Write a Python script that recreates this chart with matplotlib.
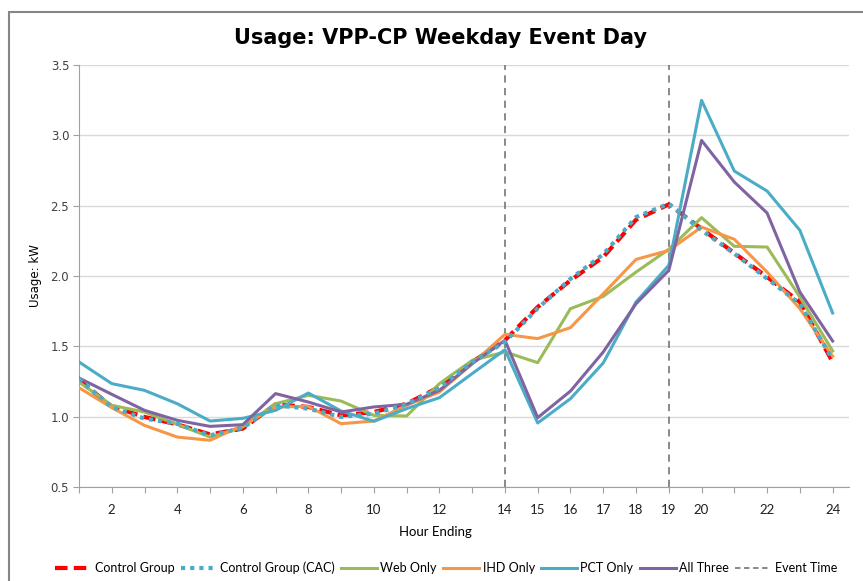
import matplotlib
matplotlib.use("Agg")
import matplotlib.pyplot as plt
from matplotlib.patches import Rectangle
from matplotlib.lines import Line2D

# hourly usage (kW)
hours = list(range(1, 25))
control = [1.258, 1.073, 0.998, 0.945, 0.874, 0.915, 1.088, 1.069, 1.009, 1.033, 1.092, 1.211,
           1.389, 1.543, 1.780, 1.969, 2.135, 2.400, 2.509, 2.336, 2.163, 1.993, 1.815, 1.389]
control_cac = [1.270, 1.068, 0.986, 0.950, 0.867, 0.920, 1.081, 1.057, 0.998, 1.021, 1.088, 1.206,
               1.389, 1.531, 1.770, 1.980, 2.154, 2.419, 2.514, 2.325, 2.159, 1.981, 1.803, 1.405]
web_only = [1.246, 1.081, 1.033, 0.945, 0.855, 0.927, 1.092, 1.152, 1.111, 1.009, 1.005, 1.235,
            1.400, 1.460, 1.384, 1.768, 1.855, 2.028, 2.190, 2.415, 2.211, 2.206, 1.851, 1.467]
ihd_only = [1.206, 1.064, 0.938, 0.855, 0.832, 0.938, 1.069, 1.073, 0.950, 0.969, 1.081, 1.175,
            1.377, 1.585, 1.555, 1.633, 1.874, 2.118, 2.182, 2.348, 2.261, 2.028, 1.768, 1.429]
pct_only = [1.389, 1.235, 1.187, 1.092, 0.969, 0.988, 1.045, 1.168, 1.040, 0.967, 1.057, 1.135,
            1.306, 1.476, 0.955, 1.128, 1.382, 1.815, 2.076, 3.249, 2.746, 2.604, 2.325, 1.737]
all_three = [1.275, 1.159, 1.045, 0.974, 0.931, 0.943, 1.164, 1.104, 1.033, 1.069, 1.088, 1.187,
             1.377, 1.543, 0.993, 1.182, 1.460, 1.803, 2.040, 2.964, 2.668, 2.448, 1.886, 1.538]
event_hours = [14, 19]
labelled_hours = [2, 4, 6, 8, 10, 12, 14, 15, 16, 17, 18, 19, 20, 22, 24]
y_ticks = [0.5, 1.0, 1.5, 2.0, 2.5, 3.0, 3.5]

narrow = ["Lato", "DejaVu Sans"]

fig = plt.figure(figsize=(8.63, 5.81), dpi=100)
ax = fig.add_axes([0.0915, 0.1618, 0.8923, 0.7263])

# frame round the whole chart
fig.patches.append(Rectangle((0.0104, -0.1), 1.2, 1.0794, transform=fig.transFigure,
                             fill=False, edgecolor="#868686", linewidth=1.5))

lw = 2.2
ax.plot(hours, control, color="#FF0000", lw=3, ls=(0, (3, 1.5)), label="Control Group", zorder=3)
ax.plot(hours, control_cac, color="#4BACC6", lw=3, ls=(0, (1, 1.2)), label="Control Group (CAC)", zorder=4)
ax.plot(hours, web_only, color="#9BBB59", lw=lw, label="Web Only", zorder=3)
ax.plot(hours, ihd_only, color="#F79646", lw=lw, label="IHD Only", zorder=3)
ax.plot(hours, pct_only, color="#4BACC6", lw=lw, label="PCT Only", zorder=3)
ax.plot(hours, all_three, color="#8064A2", lw=lw, label="All Three", zorder=3)
for h in event_hours:
    ax.axvline(h, color="#808080", lw=1.3, ls=(0, (4, 3)), zorder=2)

ax.set_xlim(1, 24.5)
ax.set_ylim(0.5, 3.5)
ax.set_yticks(y_ticks)
ax.set_yticklabels([f"{v:.1f}" for v in y_ticks], fontsize=8.5, color="#404040")
ax.set_xticks(hours)
ax.set_xticklabels([str(h) if h in labelled_hours else "" for h in hours],
                   fontsize=9.5, family=narrow, color="#202020")
ax.tick_params(axis="x", length=4, color="#A0A0A0", pad=8)
ax.tick_params(axis="y", length=4, color="#A0A0A0", pad=3)
ax.grid(axis="y", color="#D9D9D9", lw=1)
ax.set_axisbelow(True)
for s in ["top", "right"]:
    ax.spines[s].set_visible(False)
for s in ["left", "bottom"]:
    ax.spines[s].set_color("#A0A0A0")

ax.set_ylabel("Usage: kW", fontsize=8.5, labelpad=6)
fig.text(0.51, 0.935, "Usage: VPP-CP Weekday Event Day", fontsize=15, fontweight="bold",
         ha="center", va="center")
fig.text(0.505, 0.084, "Hour Ending", fontsize=9.5, family=narrow, ha="center", va="center")

handles, labels = ax.get_legend_handles_labels()
handles.append(Line2D([], [], color="#808080", lw=1.3, ls=(0, (3, 2))))
labels.append("Event Time")
fig.legend(handles, labels, loc="center", bbox_to_anchor=(0.517, 0.022), ncol=7, frameon=False,
           prop={"family": narrow, "size": 9}, handlelength=2.9, columnspacing=0.5,
           handletextpad=0.25, borderpad=0.2)

fig.savefig("out.png", dpi=100)
